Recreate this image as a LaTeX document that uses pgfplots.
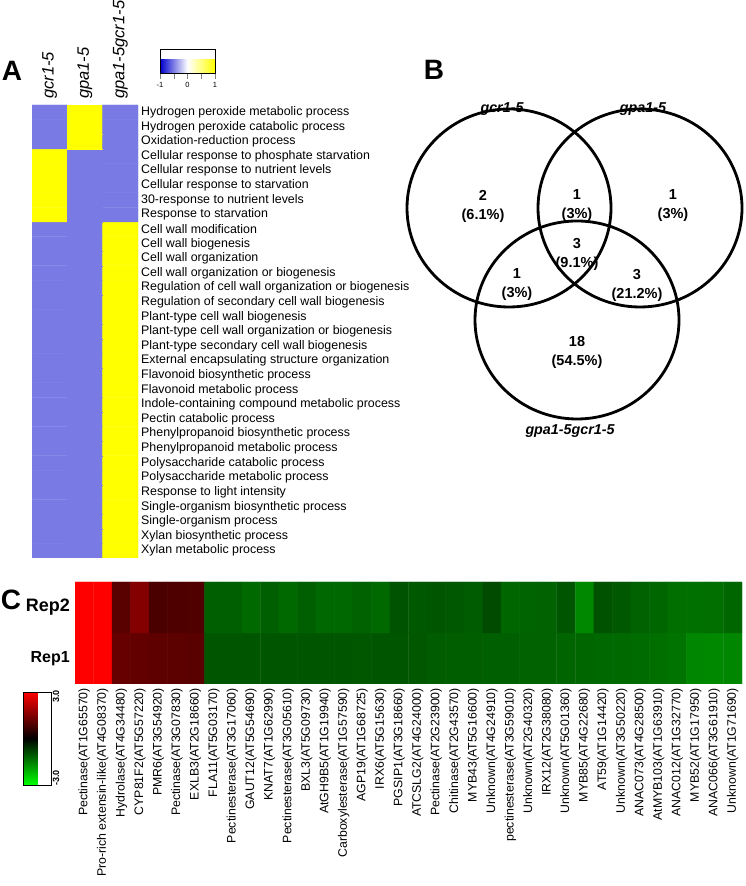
\documentclass[border=0pt]{standalone}
\usepackage{pgfplots}
\pgfplotsset{compat=1.18}
\usepackage{fontspec}
\setmainfont{Liberation Sans}
\newcommand{\fs}[1]{\fontsize{#1}{#1}\selectfont}
\begin{document}
\begin{tikzpicture}[x=1pt,y=1pt]
\useasboundingbox (0pt,0pt) rectangle (745pt,886pt);

% ---------------- Panel A ----------------
\begin{axis}[
  at={(32pt,781pt)}, anchor=north west,
  scale only axis, width=106pt, height=453pt,
  xmin=-0.5, xmax=2.5, ymin=-0.5, ymax=30.5,
  colormap={gyb}{rgb255=(0,0,205) rgb255=(255,255,255) rgb255=(255,255,0)},
  point meta min=-1, point meta max=1,
  axis line style={draw=none}, major tick length=0pt,
  xtick={0,1,2}, xticklabels={gcr1-5,gpa1-5,gpa1-5gcr1-5},
  xticklabel pos=upper,
  xticklabel style={rotate=90, anchor=west, font=\fs{16.5}\itshape, inner sep=0pt},
  xticklabel shift=6pt,
  ytick={0,...,30},
  yticklabels={Xylan metabolic process,Xylan biosynthetic process,Single-organism process,Single-organism biosynthetic process,Response to light intensity,Polysaccharide metabolic process,Polysaccharide catabolic process,Phenylpropanoid metabolic process,Phenylpropanoid biosynthetic process,Pectin catabolic process,Indole-containing compound metabolic process,Flavonoid metabolic process,Flavonoid biosynthetic process,External encapsulating structure organization,Plant-type secondary cell wall biogenesis,Plant-type cell wall organization or biogenesis,Plant-type cell wall biogenesis,Regulation of secondary cell wall biogenesis,Regulation of cell wall organization or biogenesis,Cell wall organization or biogenesis,Cell wall organization,Cell wall biogenesis,Cell wall modification,Response to starvation,30-response to nutrient levels,Cellular response to starvation,Cellular response to nutrient levels,Cellular response to phosphate starvation,Oxidation-reduction process,Hydrogen peroxide catabolic process,Hydrogen peroxide metabolic process},
  yticklabel pos=right,
  yticklabel style={anchor=west, font=\fs{12.4}, inner sep=0pt},
  yticklabel shift=3pt,
  colorbar horizontal,
  colorbar style={
    at={(parent axis.north east)}, anchor=south west, xshift=22pt, yshift=40pt,
    width=55pt, height=24pt, scale only axis,
    xtick={-1,-0.5,0,0.5,1}, xticklabels={-1,,0,,1},
    xticklabel style={font=\fs{7.5}},
    major tick length=5pt, tick align=outside, xtick pos=bottom, xticklabel pos=lower,
    /pgf/number format/assume math mode=true,
  },
]
\addplot[matrix plot*, mesh/cols=3, point meta=explicit] table[meta=c]{
x y c
0 0 -0.52
1 0 -0.52
2 0 1
0 1 -0.52
1 1 -0.52
2 1 1
0 2 -0.52
1 2 -0.52
2 2 1
0 3 -0.52
1 3 -0.52
2 3 1
0 4 -0.52
1 4 -0.52
2 4 1
0 5 -0.52
1 5 -0.52
2 5 1
0 6 -0.52
1 6 -0.52
2 6 1
0 7 -0.52
1 7 -0.52
2 7 1
0 8 -0.52
1 8 -0.52
2 8 1
0 9 -0.52
1 9 -0.52
2 9 1
0 10 -0.52
1 10 -0.52
2 10 1
0 11 -0.52
1 11 -0.52
2 11 1
0 12 -0.52
1 12 -0.52
2 12 1
0 13 -0.52
1 13 -0.52
2 13 1
0 14 -0.52
1 14 -0.52
2 14 1
0 15 -0.52
1 15 -0.52
2 15 1
0 16 -0.52
1 16 -0.52
2 16 1
0 17 -0.52
1 17 -0.52
2 17 1
0 18 -0.52
1 18 -0.52
2 18 1
0 19 -0.52
1 19 -0.52
2 19 1
0 20 -0.52
1 20 -0.52
2 20 1
0 21 -0.52
1 21 -0.52
2 21 1
0 22 -0.52
1 22 -0.52
2 22 1
0 23 1
1 23 -0.52
2 23 -0.52
0 24 1
1 24 -0.52
2 24 -0.52
0 25 1
1 25 -0.52
2 25 -0.52
0 26 1
1 26 -0.52
2 26 -0.52
0 27 1
1 27 -0.52
2 27 -0.52
0 28 -0.52
1 28 1
2 28 -0.52
0 29 -0.52
1 29 1
2 29 -0.52
0 30 -0.52
1 30 1
2 30 -0.52
};
\end{axis}

% ---------------- Panel C ----------------
\begin{axis}[
  at={(75pt,304pt)}, anchor=north west,
  scale only axis, width=667pt, height=102pt,
  xmin=-0.5, xmax=35.5, ymin=-0.5, ymax=1.5,
  colormap={rg}{rgb255=(0,255,0) rgb255=(0,0,0) rgb255=(255,0,0)},
  point meta min=-3, point meta max=3,
  axis line style={draw=none}, major tick length=0pt,
  xtick={0,...,35},
  xticklabels={Pectinase(AT1G65570),Pro-rich extensin-like(AT4G08370),Hydrolase(AT4G34480),CYP81F2(AT5G57220),PMR6(AT3G54920),Pectinase(AT3G07830),EXLB3(AT2G18660),FLA11(AT5G03170),Pectinesterase(AT3G17060),GAUT12(AT5G54690),KNAT7(AT1G62990),Pectinesterase(AT3G05610),BXL3(AT5G09730),AtGH9B5(AT1G19940),Carboxylesterase(AT1G57590),AGP19(AT1G68725),IRX6(AT5G15630),PGSIP1(AT3G18660),ATCSLG2(AT4G24000),Pectinase(AT2G23900),Chitinase(AT2G43570),MYB43(AT5G16600),Unknown(AT4G24910),pectinesterase(AT3G59010),Unknown(AT2G40320),IRX12(AT2G38080),Unknown(AT5G01360),MYB85(AT4G22680),AT59(AT1G14420),Unknown(AT3G50220),ANAC073(AT4G28500),AtMYB103(AT1G63910),ANAC012(AT1G32770),MYB52(AT1G17950),ANAC066(AT3G61910),Unknown(AT1G71690)},
  xticklabel style={rotate=90, anchor=east, font=\fs{12.3}, inner sep=0pt},
  xticklabel shift=4pt,
  ytick={0,1}, yticklabels={\fs{16}Rep1,\fs{18}Rep2},
  yticklabel style={anchor=east, font=\bfseries, inner sep=0pt},
  yticklabel shift=5pt,
  colorbar,
  colorbar style={
    at={(parent axis.south west)}, anchor=north west, xshift=-60pt, yshift=-8pt,
    width=28pt, height=93pt, scale only axis,
    ytick={-2.55,2.7}, yticklabels={-3.0,3.0},
    yticklabel style={rotate=90, anchor=north, font=\fs{9}\bfseries, inner sep=1pt},
    major tick length=0pt,
  },
]
\addplot[matrix plot*, mesh/cols=36, point meta=explicit] table[meta=c]{
x y c
0 0 3.0
1 0 3.0
2 0 1.2
3 0 1.15
4 0 1.12
5 0 1.1
6 0 1.05
7 0 -1.0
8 0 -1.0
9 0 -1.0
10 0 -1.0
11 0 -1.0
12 0 -1.0
13 0 -1.0
14 0 -1.0
15 0 -1.02
16 0 -1.0
17 0 -1.0
18 0 -1.02
19 0 -1.08
20 0 -1.1
21 0 -1.1
22 0 -1.12
23 0 -1.12
24 0 -1.15
25 0 -1.15
26 0 -1.18
27 0 -1.2
28 0 -1.22
29 0 -1.24
30 0 -1.26
31 0 -1.3
32 0 -1.35
33 0 -1.58
34 0 -1.6
35 0 -1.58
0 1 3.0
1 1 3.0
2 1 1.05
3 1 1.55
4 1 0.88
5 1 0.92
6 1 0.95
7 1 -1.12
8 1 -1.12
9 1 -1.24
10 1 -1.12
11 1 -1.24
12 1 -1.12
13 1 -1.22
14 1 -1.22
15 1 -1.15
16 1 -1.24
17 1 -0.98
18 1 -1.05
19 1 -1.0
20 1 -1.05
21 1 -1.08
22 1 -0.88
23 1 -1.2
24 1 -1.18
25 1 -1.15
26 1 -1.0
27 1 -1.6
28 1 -0.95
29 1 -1.05
30 1 -1.15
31 1 -1.2
32 1 -1.3
33 1 -1.32
34 1 -1.3
35 1 -1.2
};
\end{axis}

% ---------------- Panel B (Venn) ----------------
\begin{axis}[
  at={(0pt,0pt)}, anchor=south west,
  scale only axis, width=745pt, height=886pt,
  xmin=0, xmax=745, ymin=0, ymax=886,
  hide axis, clip=false,
]
\draw[line width=2.8pt] (axis cs:509,678) ellipse [x radius=102, y radius=99];
\draw[line width=2.8pt] (axis cs:640,678) ellipse [x radius=102, y radius=99];
\draw[line width=2.8pt] (axis cs:577,566) ellipse [x radius=102, y radius=99];
\node[font=\fs{14.3}\bfseries\itshape] at (axis cs:502,777) {gcr1-5};
\node[font=\fs{14.3}\bfseries\itshape] at (axis cs:643,777) {gpa1-5};
\node[font=\fs{14.3}\bfseries\itshape] at (axis cs:570,455) {gpa1-5gcr1-5};
\tikzset{vn/.style={align=center, font=\fontsize{14.5}{19}\selectfont\bfseries, inner sep=0pt}}
\node[vn] at (axis cs:483,680) {2\\(6.1\%)};
\node[vn] at (axis cs:577,680) {1\\(3\%)};
\node[vn] at (axis cs:673,680) {1\\(3\%)};
\node[vn] at (axis cs:577,632) {3\\(9.1\%)};
\node[vn] at (axis cs:517,601) {1\\(3\%)};
\node[vn] at (axis cs:637,601) {3\\(21.2\%)};
\node[vn] at (axis cs:577,534) {18\\(54.5\%)};
\end{axis}

% Panel letters
\node[font=\fs{28}\bfseries] at (12pt,815pt) {A};
\node[font=\fs{28}\bfseries] at (434pt,816pt) {B};
\node[font=\fs{28}\bfseries] at (11pt,286pt) {C};
\end{tikzpicture}
\end{document}
